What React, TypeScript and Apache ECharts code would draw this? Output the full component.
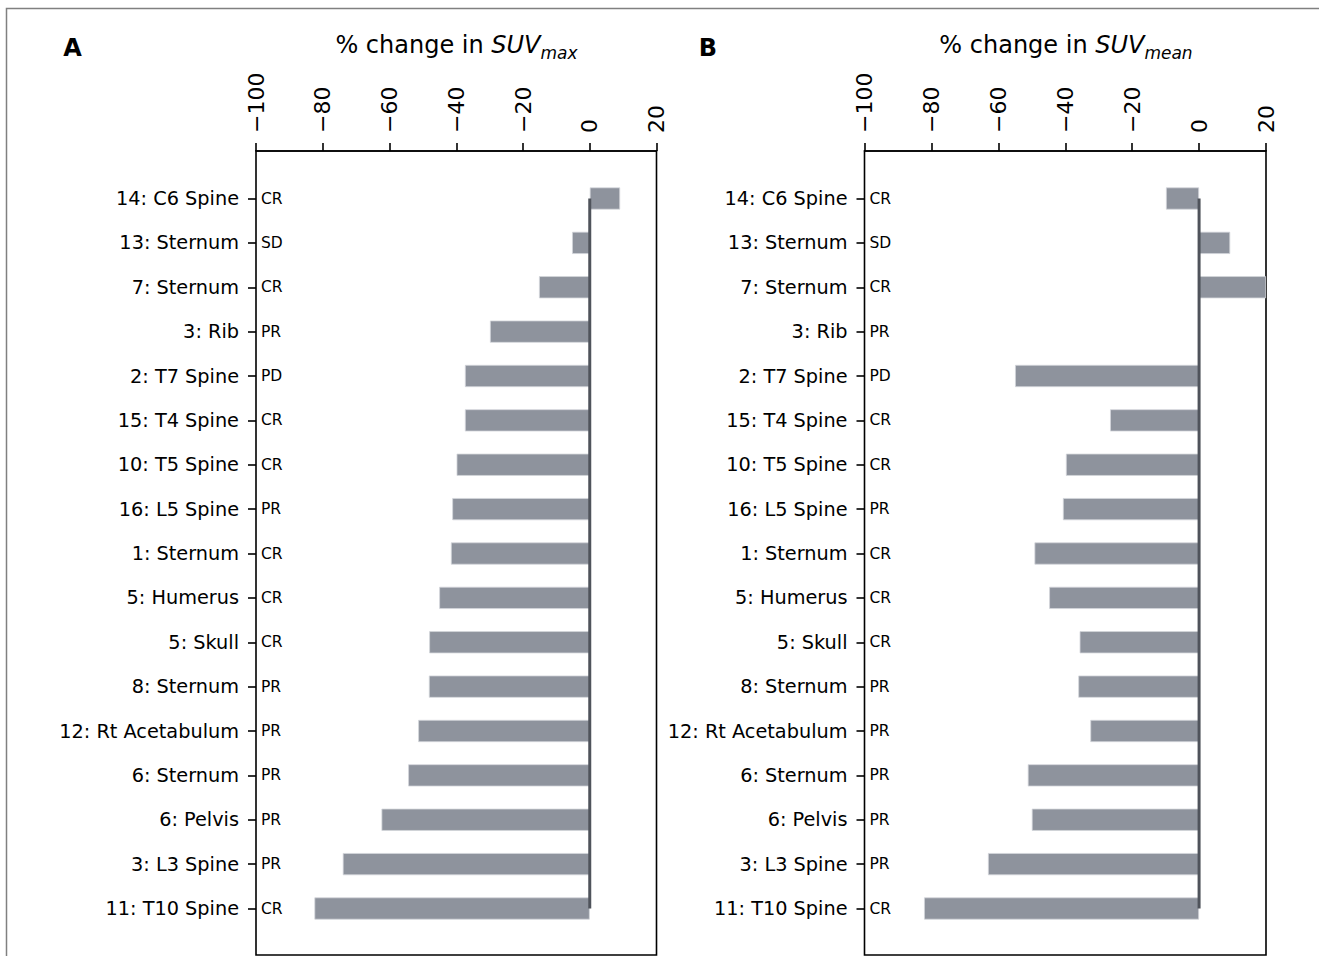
import React, { useEffect, useRef } from "react";
import * as echarts from "echarts";

const categories = [
  "14: C6 Spine", "13: Sternum", "7: Sternum", "3: Rib", "2: T7 Spine", "15: T4 Spine",
  "10: T5 Spine", "16: L5 Spine", "1: Sternum", "5: Humerus", "5: Skull", "8: Sternum",
  "12: Rt Acetabulum", "6: Sternum", "6: Pelvis", "3: L3 Spine", "11: T10 Spine",
];
const responses = ["CR", "SD", "CR", "PR", "PD", "CR", "CR", "PR", "CR", "CR", "CR", "PR", "PR", "PR", "PR", "PR", "CR"];
const suvMaxChange = [9.1, -5.3, -15.2, -29.9, -37.4, -37.4, -39.9, -41.2, -41.6, -45.1, -48.1, -48.2, -51.4, -54.4, -62.4, -74.0, -82.5];
const suvMeanChange = [-9.9, 9.3, 20, null, -55.0, -26.6, -39.8, -40.7, -49.2, -44.8, -35.7, -36.1, -32.5, -51.2, -50.0, -63.1, -82.2];
const xMin = -100;
const xMax = 20;
const xStep = 20;
const zeroLine = [[0, categories[0]], [0, categories[categories.length - 1]]];

const FONT = "DejaVu Sans";

export default function App() {
  const ref = useRef<HTMLDivElement>(null);
  useEffect(() => {
    if (!ref.current) return;
    const chart = echarts.init(ref.current, null, { renderer: "svg" });

    const panels = [
      { left: 256, width: 400.5, values: suvMaxChange },
      { left: 864.5, width: 401.5, values: suvMeanChange },
    ];
    const frameTop = 151;
    const frameHeight = 804;
    const band = 44.375;
    const dataTop = 198.5 - band / 2;
    const dataHeight = band * categories.length;

    const grid: any[] = [];
    const xAxis: any[] = [];
    const yAxis: any[] = [];
    const series: any[] = [];

    panels.forEach((p, k) => {
      const gFrame = k * 2;
      const gData = k * 2 + 1;
      grid.push({
        left: p.left, width: p.width, top: frameTop, height: frameHeight,
        show: true, borderColor: "#000", borderWidth: 1.6, backgroundColor: "transparent",
      });
      grid.push({ left: p.left, width: p.width, top: dataTop, height: dataHeight });
      xAxis.push({
        gridIndex: gFrame, type: "value", position: "top", min: xMin, max: xMax, interval: xStep,
        axisLine: { show: true, onZero: false, lineStyle: { color: "#000", width: 1.6 } },
        axisTick: { show: true, length: 8, lineStyle: { color: "#000", width: 1.6 } },
        splitLine: { show: false },
        axisLabel: {
          rotate: -90, fontSize: 22, fontFamily: FONT, color: "#000", margin: 18,
          formatter: (v: number) => String(v).replace("-", "\u2212"),
        },
      });
      xAxis.push({
        gridIndex: gData, type: "value", min: xMin, max: xMax, show: false,
        axisLine: { onZero: false },
      });
      yAxis.push({
        gridIndex: gFrame, type: "value", min: 0, max: 1, show: false,
        axisLine: { onZero: false },
      });
      const yNamesIdx = yAxis.length;
      yAxis.push({
        gridIndex: gData, type: "category", inverse: true, position: "left", data: categories,
        axisLine: { show: false, onZero: false },
        axisTick: { show: true, alignWithLabel: true, length: 8, lineStyle: { color: "#000", width: 1.6 } },
        axisLabel: { interval: 0, fontSize: 19.3, fontFamily: FONT, color: "#000", margin: 17 },
        splitLine: { show: false },
      });
      yAxis.push({
        gridIndex: gData, type: "category", inverse: true, position: "left", data: responses,
        axisLine: { show: false, onZero: false }, axisTick: { show: false },
        axisLabel: { inside: true, interval: 0, fontSize: 15.5, fontFamily: FONT, color: "#000", margin: 5 },
        splitLine: { show: false },
      });
      series.push({
        type: "bar", xAxisIndex: gData, yAxisIndex: yNamesIdx, data: p.values,
        barWidth: "50%",
        itemStyle: { color: "#8e939d", borderColor: "#d3d6db", borderWidth: 0.8 },
        z: 2,
      });
      series.push({
        type: "line", xAxisIndex: gData, yAxisIndex: yNamesIdx, data: zeroLine,
        symbol: "none", lineStyle: { color: "#4f535b", width: 3 }, z: 3,
      });
    });

    const title = (x: number, sub: string) => ({
      type: "text", x, y: 45,
      style: {
        text: "% change in {i|SUV}{s|" + sub + "}",
        align: "center", verticalAlign: "middle",
        fontSize: 24, fontFamily: FONT, fill: "#000", lineHeight: 32,
        rich: {
          i: { fontStyle: "italic", fontSize: 24, fontFamily: FONT, fill: "#000", lineHeight: 32 },
          s: { fontStyle: "italic", fontSize: 17, fontFamily: FONT, fill: "#000", lineHeight: 20, verticalAlign: "bottom" },
        },
      },
    });

    chart.setOption({
      animation: false,
      backgroundColor: "#fff",
      grid, xAxis, yAxis, series,
      graphic: [
        {
          type: "rect", shape: { x: 6.5, y: 8.5, width: 1340, height: 1000 },
          style: { fill: "none", stroke: "#808080", lineWidth: 1.5 }, silent: true,
        },
        title(456.5, "max"),
        title(1066, "mean"),
        { type: "text", x: 72.5, y: 48, style: { text: "A", fontSize: 24, fontWeight: "bold", fontFamily: FONT, fill: "#000", align: "center", verticalAlign: "middle" } },
        { type: "text", x: 708, y: 48, style: { text: "B", fontSize: 24, fontWeight: "bold", fontFamily: FONT, fill: "#000", align: "center", verticalAlign: "middle" } },
      ],
    });
    return () => chart.dispose();
  }, []);
  return (
    <div
      ref={ref}
      style={{ position: "absolute", left: 0, top: 0, width: 1319, height: 956 }}
    />
  );
}
